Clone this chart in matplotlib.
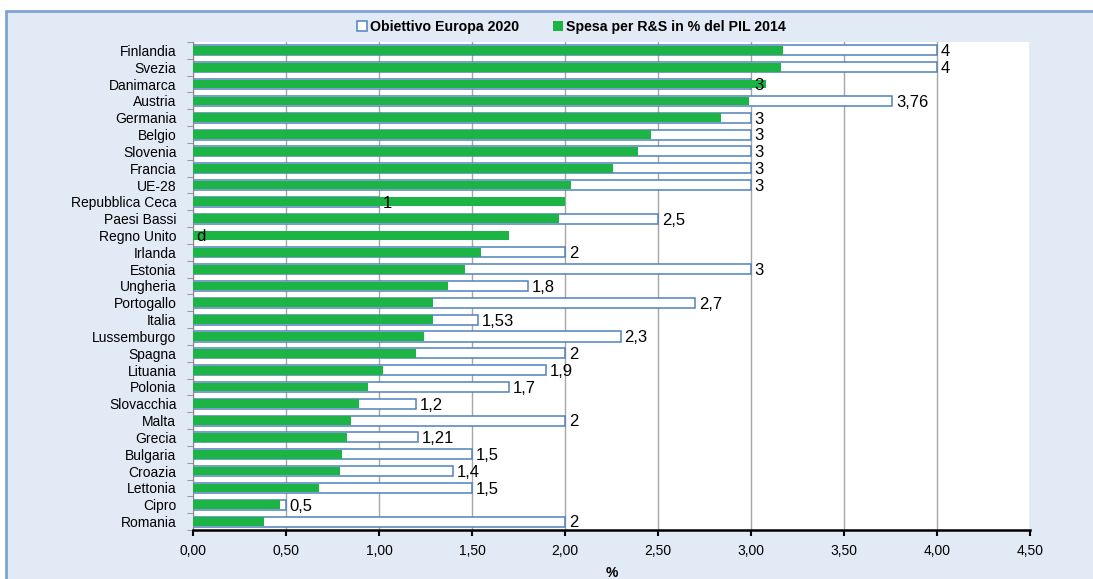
import numpy as np
import matplotlib.pyplot as plt
from matplotlib.patches import Rectangle

plt.rcParams['font.family'] = ['Liberation Sans', 'DejaVu Sans']

countries = ['Finlandia', 'Svezia', 'Danimarca', 'Austria', 'Germania', 'Belgio',
             'Slovenia', 'Francia', 'UE-28', 'Repubblica Ceca', 'Paesi Bassi',
             'Regno Unito', 'Irlanda', 'Estonia', 'Ungheria', 'Portogallo', 'Italia',
             'Lussemburgo', 'Spagna', 'Lituania', 'Polonia', 'Slovacchia', 'Malta',
             'Grecia', 'Bulgaria', 'Croazia', 'Lettonia', 'Cipro', 'Romania']

# Spesa per R&S in % del PIL, 2014
spesa_2014 = [3.17, 3.16, 3.08, 2.99, 2.84, 2.46, 2.39, 2.26, 2.03, 2.00, 1.97,
              1.70, 1.55, 1.46, 1.37, 1.29, 1.29, 1.24, 1.20, 1.02, 0.94, 0.89,
              0.85, 0.83, 0.80, 0.79, 0.68, 0.47, 0.38]

# Obiettivo Europa 2020 (Regno Unito senza obiettivo)
obiettivo_2020 = [4, 4, 3, 3.76, 3, 3, 3, 3, 3, 1, 2.5,
                  np.nan, 2, 3, 1.8, 2.7, 1.53, 2.3, 2, 1.9, 1.7, 1.2,
                  2, 1.21, 1.5, 1.4, 1.5, 0.5, 2]

green = '#1DB446'
blue = '#4F81BD'

fig = plt.figure(figsize=(10.93, 5.79), dpi=100)
fig.patch.set_facecolor('white')
frame = Rectangle((6 / 1093, -0.05), 1.1, 1 - 11 / 579 + 0.05,
                  transform=fig.transFigure, facecolor='#E2EAF5',
                  edgecolor='#7FA3D6', linewidth=2, zorder=-10)
fig.patches.append(frame)

ax = fig.add_axes([193 / 1093, 1 - 530 / 579, (1030 - 193) / 1093, (530 - 42) / 579])
ax.set_facecolor('white')

y = np.arange(len(countries))
target = np.nan_to_num(np.array(obiettivo_2020, dtype=float))
ax.barh(y, target, height=0.6, facecolor='white', edgecolor=blue,
        linewidth=1.1, zorder=2, label='Obiettivo Europa 2020')
ax.barh(y, spesa_2014, height=0.52, color=green, zorder=3,
        label='Spesa per R&S in % del PIL 2014')

for yi, val in zip(y, obiettivo_2020):
    if np.isnan(val):
        txt, xpos = 'd', 0.02
    else:
        txt, xpos = f'{val:g}'.replace('.', ','), val + 0.02
    ax.text(xpos, yi + 0.08, txt, va='center', ha='left', fontsize=12,
            color='black', zorder=4)

ax.set_xlim(0, 4.5)
ax.set_ylim(len(countries) - 0.5, -0.5)
ax.set_xticks(np.arange(0, 4.51, 0.5))
ax.set_xticklabels([f'{v:.2f}'.replace('.', ',') for v in np.arange(0, 4.51, 0.5)],
                   fontsize=10)
ax.set_yticks(y)
ax.set_yticklabels(countries, fontsize=10)
ax.set_yticks(np.arange(-0.5, len(countries), 1), minor=True)
ax.tick_params(axis='y', which='major', length=0, pad=12)
ax.tick_params(axis='y', which='minor', length=4, color='#888888')
ax.tick_params(axis='x', length=4, width=1.5, color='black', pad=6)

ax.grid(axis='x', color='#A6A6A6', linewidth=1.0, zorder=1)
ax.set_axisbelow(True)
for side in ['top', 'right']:
    ax.spines[side].set_visible(False)
ax.spines['left'].set_color('#888888')
ax.spines['bottom'].set_color('black')
ax.spines['bottom'].set_linewidth(1.8)

ax.set_xlabel('%', fontsize=10, fontweight='bold', labelpad=6)

ax.legend(loc='lower center', bbox_to_anchor=(0.452, 1.0), ncol=2, frameon=False,
          prop={'weight': 'bold', 'size': 10.2}, handlelength=0.7, handleheight=0.7,
          handletextpad=0.2, columnspacing=2.4, borderaxespad=0.2)

fig.savefig('out.png', dpi=100)
